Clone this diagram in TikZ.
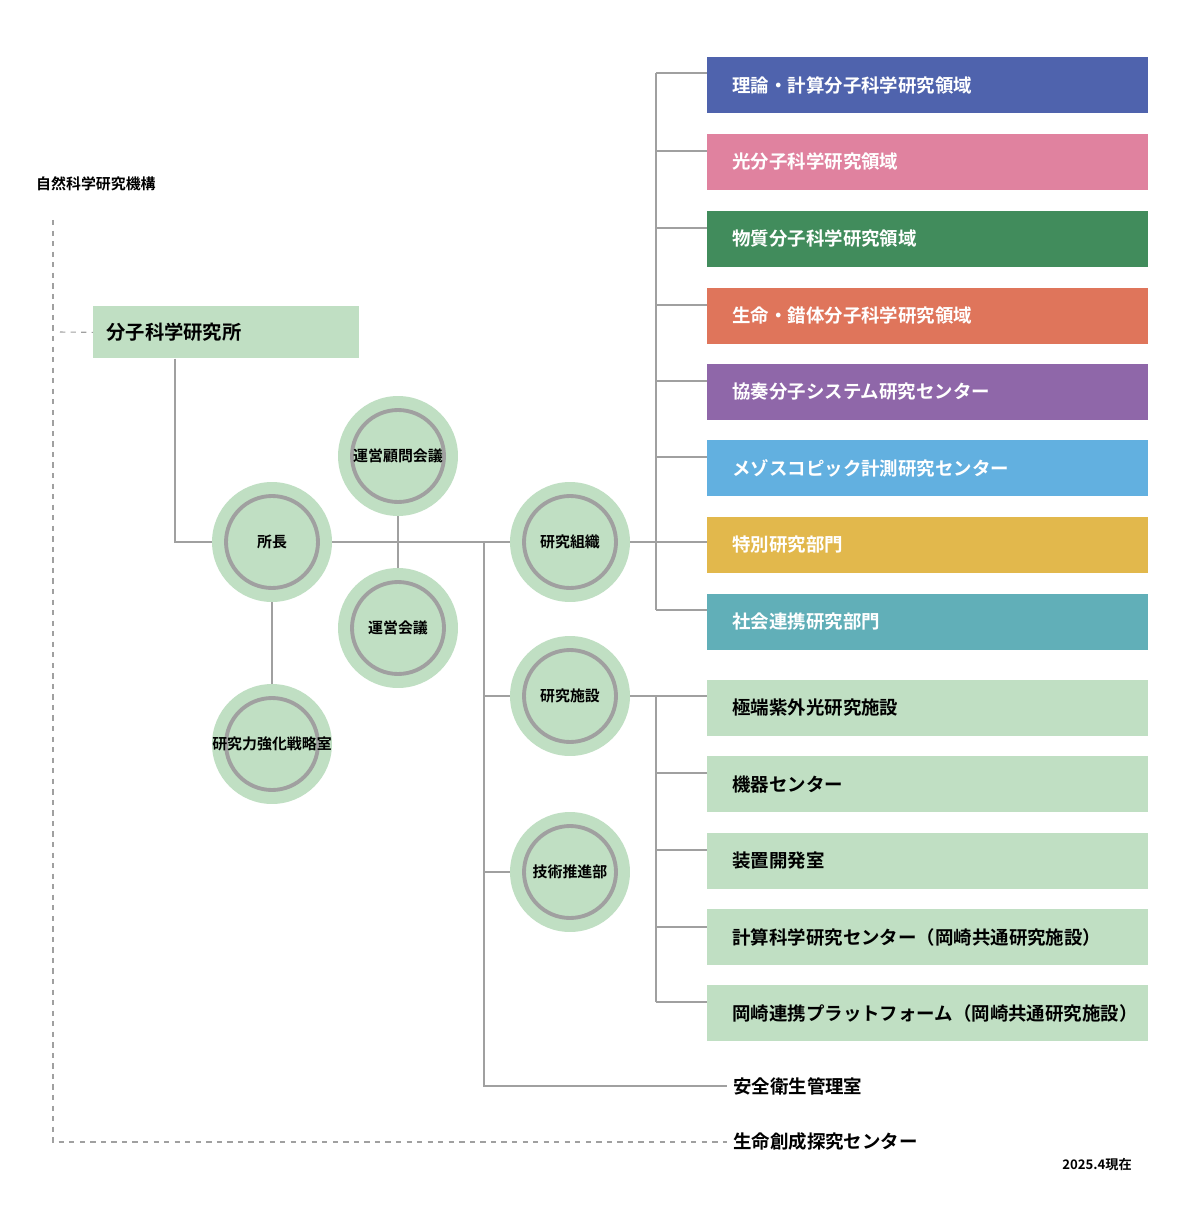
\documentclass[tikz,border=0pt]{standalone}
\usepackage{fontspec}
\setmainfont{Noto Sans CJK JP}[BoldFont={Noto Sans CJK JP Bold}]
\usetikzlibrary{positioning}
\definecolor{cblue}{HTML}{4F63AD}
\definecolor{cpink}{HTML}{E0829F}
\definecolor{cgreen}{HTML}{418C5C}
\definecolor{corange}{HTML}{DF755B}
\definecolor{cpurple}{HTML}{8F67A9}
\definecolor{csky}{HTML}{62B0E0}
\definecolor{cyellow}{HTML}{E2B84C}
\definecolor{cteal}{HTML}{61AFB8}
\definecolor{clight}{HTML}{C0DFC3}
\definecolor{cline}{HTML}{A0A0A0}
\tikzset{
  unit/.style={fill=#1, minimum width=8.82cm, minimum height=1.12cm, anchor=west,
    text=white, font=\bfseries\fontsize{10.5}{12}\selectfont, text width=7.82cm, inner xsep=0.5cm, align=left},
  facility/.style={unit=clight, text=black},
  organ/.style={circle, fill=clight, minimum size=2.4cm, inner sep=0pt,
    font=\bfseries\fontsize{8.5}{10}\selectfont,
    path picture={\draw[cline, line width=2.2pt] (path picture bounding box.center) circle [radius=0.92cm];}},
  link/.style={cline, line width=1.4pt},
  dashlink/.style={cline, dashed, line width=0.6pt}
}
\begin{document}
\begin{tikzpicture}[x=0.02cm, y=-0.02cm]
  \useasboundingbox (0,0) rectangle (1200,1226);

  % institute
  \node[anchor=west, font=\bfseries\fontsize{8.5}{10}\selectfont] (nins) at (30,184) {自然科学研究機構};
  \node[fill=clight, minimum width=5.32cm, minimum height=1.04cm, anchor=north west,
    font=\bfseries\fontsize{11}{12}\selectfont, text width=4.8cm, align=left] (ims) at (93,306) {分子科学研究所};

  % circles
  \node[organ] (dir) at (272,542) {所長};
  \node[organ] (adv) at (398,456) {運営顧問会議};
  \node[organ] (mgt) at (398,628) {運営会議};
  \node[organ] (str) at (272,744) {研究力強化戦略室};
  \node[organ] (res) at (570,542) {研究組織};
  \node[organ] (fac) at (570,696) {研究施設};
  \node[organ] (tec) at (570,872) {技術推進部};

  % research units
  \node[unit=cblue]   (u1) at (707,85)  {理論・計算分子科学研究領域};
  \node[unit=cpink]   (u2) at (707,162) {光分子科学研究領域};
  \node[unit=cgreen]  (u3) at (707,239) {物質分子科学研究領域};
  \node[unit=corange] (u4) at (707,316) {生命・錯体分子科学研究領域};
  \node[unit=cpurple] (u5) at (707,392) {協奏分子システム研究センター};
  \node[unit=csky]    (u6) at (707,468) {メゾスコピック計測研究センター};
  \node[unit=cyellow] (u7) at (707,545) {特別研究部門};
  \node[unit=cteal]   (u8) at (707,622) {社会連携研究部門};

  % facilities
  \node[facility] (f1) at (707,708)  {極端紫外光研究施設};
  \node[facility] (f2) at (707,784)  {機器センター};
  \node[facility] (f3) at (707,861)  {装置開発室};
  \node[facility] (f4) at (707,937)  {計算科学研究センター（岡崎共通研究施設）};
  \node[facility] (f5) at (707,1013) {岡崎連携プラットフォーム（岡崎共通研究施設）};

  \node[anchor=west, font=\bfseries\fontsize{10.5}{12}\selectfont] (saf) at (727,1086) {安全衛生管理室};
  \node[anchor=west, font=\bfseries\fontsize{10.5}{12}\selectfont] (exc) at (727,1142) {生命創成探究センター};
  \node[anchor=east, font=\bfseries\fontsize{7.5}{9}\selectfont] (date) at (1138,1165) {2025.4現在};

  % connectors
  \coordinate (j1) at (484,542);
  \draw[link] (ims.south -| 175,0) |- (dir.west);
  \draw[link] (dir) -- (res);
  \draw[link] (adv) -- (mgt);
  \draw[link] (dir) -- (str);
  \draw[link] (j1) |- (saf.west);
  \draw[link] (j1 |- fac) -- (fac);
  \draw[link] (j1 |- tec) -- (tec);
  \draw[link] (656,73) -- (656,610);
  \draw[link] (res) -- (u7.west |- res);
  \foreach \u/\y in {u1/73,u2/151,u3/228,u4/305,u5/381,u6/457,u8/610}
    \draw[link] (656,\y) -- (\u.west |- 0,\y);
  \draw[link] (fac) -- (f1.west |- fac);
  \draw[link] (656,696) -- (656,1002);
  \foreach \f/\y in {f2/773,f3/850,f4/927,f5/1002}
    \draw[link] (656,\y) -- (\f.west |- 0,\y);
  \draw[dashlink] (53,220) |- (exc.west);
  \draw[dashlink] (60,332) -- (ims.west);
\end{tikzpicture}
\end{document}
